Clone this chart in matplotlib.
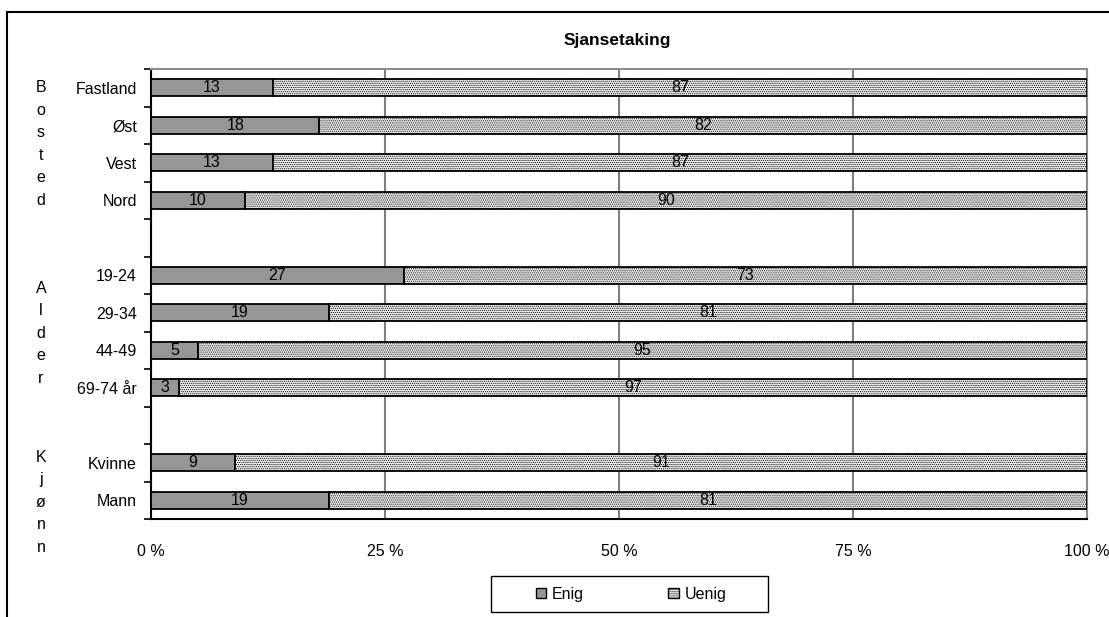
import matplotlib
matplotlib.use("Agg")
import matplotlib.pyplot as plt
from matplotlib.patches import Patch, Rectangle
from matplotlib.transforms import blended_transform_factory

plt.rcParams['font.family'] = ['Liberation Sans', 'DejaVu Sans']
plt.rcParams['hatch.color'] = '#c6c6c6'
plt.rcParams['hatch.linewidth'] = 0.5

# Survey answers, top to bottom; empty strings separate the groups
categories = ["Fastland", "Øst", "Vest", "Nord", "",
              "19-24", "29-34", "44-49", "69-74 år", "",
              "Kvinne", "Mann"]
enig = [13, 18, 13, 10, None, 27, 19, 5, 3, None, 9, 19]
uenig = [87, 82, 87, 90, None, 73, 81, 95, 97, None, 91, 81]
x_ticks = [0, 25, 50, 75, 100]
x_ticklabels = ["0 %", "25 %", "50 %", "75 %", "100 %"]
groups = [("Bosted", 0.0), ("Alder", 5.35), ("Kjønn", 9.85)]
title = "Sjansetaking"
series_names = ["Enig", "Uenig"]

enig_color = "#969696"
uenig_color = "#ebebeb"
fs = 11.5

fig = plt.figure(figsize=(11.09, 6.17), dpi=100)
ax = fig.add_axes([151 / 1109, 1 - 519 / 617, 936 / 1109, 450 / 617])

# outer chart border (top and left edges visible)
fig.patches.append(Rectangle((7 / 1109, -0.5), 1.2, 0.5 + (1 - 12 / 617),
                             transform=fig.transFigure, fill=False,
                             edgecolor="black", linewidth=1.5))

rows = [i for i, c in enumerate(categories) if c]
e_vals = [enig[i] for i in rows]
u_vals = [uenig[i] for i in rows]

ax.barh(rows, e_vals, height=0.46, color=enig_color, edgecolor="black",
        linewidth=1.3, zorder=3)
ax.barh(rows, u_vals, left=e_vals, height=0.46, color=uenig_color,
        edgecolor="black", linewidth=1.3, hatch="........", zorder=3)

for r, e, u in zip(rows, e_vals, u_vals):
    ax.text(e / 2, r, str(e), ha="center", va="center", fontsize=fs,
            zorder=4)
    ax.text(e + u / 2, r, str(u), ha="center", va="center", fontsize=fs,
            zorder=4)

ax.set_xlim(0, 100)
ax.set_ylim(len(categories) - 0.5, -0.5)

ax.set_xticks(x_ticks)
ax.set_xticklabels(x_ticklabels, fontsize=fs)
ax.tick_params(axis="x", length=0, pad=18)
ax.grid(axis="x", color="#7f7f7f", linewidth=1.5, zorder=0)

ax.set_yticks(rows)
ax.set_yticklabels([categories[i] for i in rows], fontsize=fs)
ax.tick_params(axis="y", which="major", length=0, pad=10)
ax.set_yticks([i - 0.5 for i in range(len(categories) + 1)], minor=True)
ax.tick_params(axis="y", which="minor", length=5, width=1.2, direction="out")

for side in ("top", "right"):
    ax.spines[side].set_color("#8c8c8c")
    ax.spines[side].set_linewidth(1.5)
for side in ("left", "bottom"):
    ax.spines[side].set_color("black")
    ax.spines[side].set_linewidth(1.5)

fig.text(617 / 1109, 1 - 40 / 617, title, ha="center", va="center",
         fontsize=12.5, fontweight="bold")

# vertical group captions, one letter per line
trans = blended_transform_factory(fig.transFigure, ax.transData)
for name, start in groups:
    for k, ch in enumerate(name):
        ax.text(41 / 1109, start + 0.6 * k, ch, transform=trans,
                ha="center", va="center", fontsize=fs, clip_on=False)

# legend box
fig.patches.append(Rectangle((491 / 1109, 1 - 612 / 617), 277 / 1109,
                             36 / 617, transform=fig.transFigure,
                             facecolor="white", edgecolor="black",
                             linewidth=1.0))
handles = [Patch(facecolor=enig_color, edgecolor="black", linewidth=1.0),
           Patch(facecolor=uenig_color, edgecolor="black", linewidth=1.0,
                 hatch="........")]
leg = fig.legend(handles, series_names, loc="center",
                 bbox_to_anchor=(631 / 1109, 1 - 594 / 617), ncol=2,
                 fontsize=fs, frameon=False,
                 handlelength=0.65, handleheight=0.65, handletextpad=0.35,
                 columnspacing=5.3, borderpad=0, borderaxespad=0)

fig.savefig("out.png", dpi=100)
